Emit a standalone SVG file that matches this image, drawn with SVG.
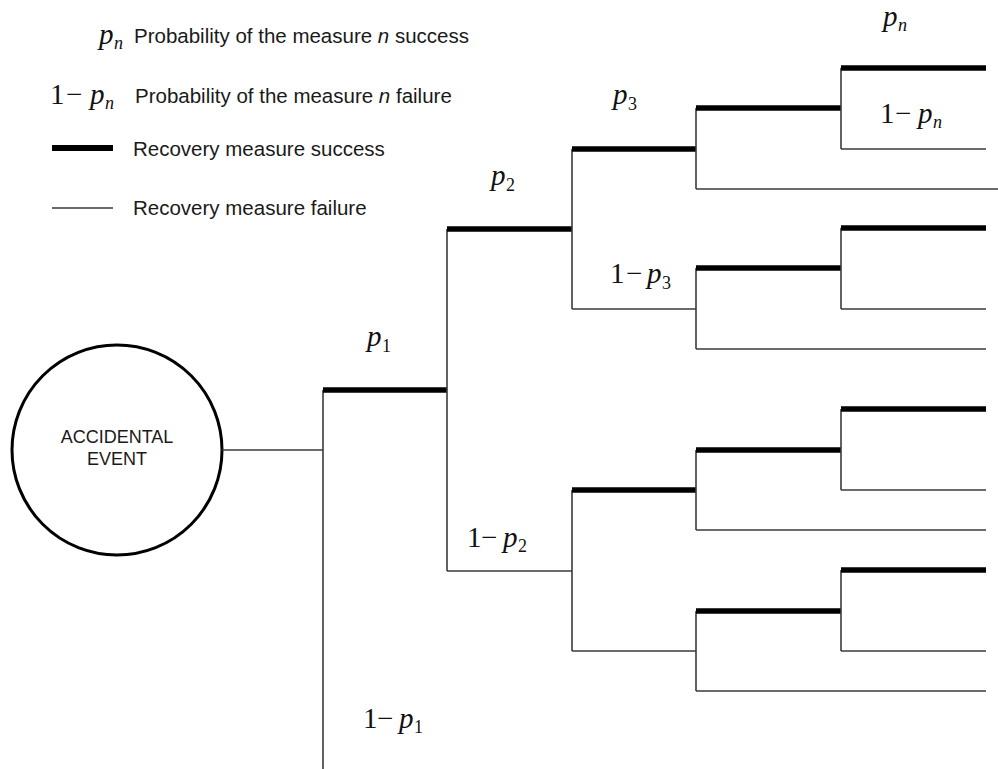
<svg xmlns="http://www.w3.org/2000/svg" width="998" height="769" viewBox="0 0 998 769">
<style>
.bg{fill:#ffffff}
.thick{stroke:#000;stroke-width:5.5;fill:none;stroke-linecap:butt}
.thin{stroke:#3a3a3a;stroke-width:1.6;fill:none;stroke-linecap:butt}
.sans{font-family:"Liberation Sans",Arial,sans-serif;fill:#1a1a1a}
.leg{font-size:20.5px}
.node{font-size:18px}
.math{font-family:"Liberation Serif","Times New Roman",serif;font-size:29px;fill:#111}
.it{font-style:italic}
.sub{font-size:18px}
</style>
<rect class="bg" x="0" y="0" width="998" height="769"/>

<g id="legend">
  <text class="math"><tspan class="it" x="99" y="44">p</tspan><tspan class="it sub" x="114" y="49">n</tspan></text>
  <text class="sans leg" x="134" y="43">Probability of the measure <tspan font-style="italic">n</tspan> success</text>
  <text class="math"><tspan x="50" y="104">1</tspan><tspan x="66" y="104">−</tspan><tspan class="it" x="90" y="104">p</tspan><tspan class="it sub" x="105" y="109">n</tspan></text>
  <text class="sans leg" x="135" y="103">Probability of the measure <tspan font-style="italic">n</tspan> failure</text>
  <line class="thick" x1="52" y1="148" x2="113" y2="148" style="stroke-width:6"/>
  <text class="sans leg" x="133" y="156">Recovery measure success</text>
  <line class="thin" x1="52" y1="208" x2="113" y2="208"/>
  <text class="sans leg" x="133" y="215">Recovery measure failure</text>
</g>

<g id="accidental-event">
  <circle cx="117" cy="450" r="105" fill="#fff" stroke="#000" stroke-width="3"/>
  <text class="sans node" x="117" y="443" text-anchor="middle">ACCIDENTAL</text>
  <text class="sans node" x="117" y="465" text-anchor="middle">EVENT</text>
</g>

<g id="connectors">
  <line class="thin" x1="222" y1="450" x2="323" y2="450"/>
  <line class="thin" x1="323" y1="390" x2="323" y2="769"/>
  <line class="thick" x1="323" y1="390" x2="447" y2="390"/>
  <line class="thin" x1="447" y1="229" x2="447" y2="571"/>
  <line class="thick" x1="447" y1="229" x2="572" y2="229"/>
  <line class="thin" x1="447" y1="571" x2="572" y2="571"/>
  <line class="thin" x1="572" y1="149" x2="572" y2="309"/>
  <line class="thick" x1="572" y1="149" x2="696" y2="149"/>
  <line class="thin" x1="572" y1="309" x2="696" y2="309"/>
  <line class="thin" x1="572" y1="490" x2="572" y2="651"/>
  <line class="thick" x1="572" y1="490" x2="696" y2="490"/>
  <line class="thin" x1="572" y1="651" x2="696" y2="651"/>
  <line class="thin" x1="696" y1="108" x2="696" y2="189"/>
  <line class="thick" x1="696" y1="108" x2="841" y2="108"/>
  <line class="thin" x1="696" y1="189" x2="998" y2="189"/>
  <line class="thin" x1="696" y1="268" x2="696" y2="349"/>
  <line class="thick" x1="696" y1="268" x2="841" y2="268"/>
  <line class="thin" x1="696" y1="349" x2="986" y2="349"/>
  <line class="thin" x1="696" y1="450" x2="696" y2="530"/>
  <line class="thick" x1="696" y1="450" x2="841" y2="450"/>
  <line class="thin" x1="696" y1="530" x2="986" y2="530"/>
  <line class="thin" x1="696" y1="611" x2="696" y2="691"/>
  <line class="thick" x1="696" y1="611" x2="841" y2="611"/>
  <line class="thin" x1="696" y1="691" x2="986" y2="691"/>
  <line class="thin" x1="841" y1="68" x2="841" y2="149"/>
  <line class="thick" x1="841" y1="68" x2="986" y2="68"/>
  <line class="thin" x1="841" y1="149" x2="986" y2="149"/>
  <line class="thin" x1="841" y1="228" x2="841" y2="309"/>
  <line class="thick" x1="841" y1="228" x2="986" y2="228"/>
  <line class="thin" x1="841" y1="309" x2="986" y2="309"/>
  <line class="thin" x1="841" y1="409" x2="841" y2="490"/>
  <line class="thick" x1="841" y1="409" x2="986" y2="409"/>
  <line class="thin" x1="841" y1="490" x2="986" y2="490"/>
  <line class="thin" x1="841" y1="570" x2="841" y2="651"/>
  <line class="thick" x1="841" y1="570" x2="986" y2="570"/>
  <line class="thin" x1="841" y1="651" x2="986" y2="651"/>
</g>

<g id="labels">
  <text id="label-p1" class="math"><tspan class="it" x="367" y="346">p</tspan><tspan class="sub" x="382" y="352">1</tspan></text>
  <text id="label-1-p1" class="math"><tspan x="363" y="728">1</tspan><tspan x="377" y="728">−</tspan><tspan class="it" x="399" y="728">p</tspan><tspan class="sub" x="414" y="733">1</tspan></text>
  <text id="label-p2" class="math"><tspan class="it" x="491" y="185">p</tspan><tspan class="sub" x="506" y="191">2</tspan></text>
  <text id="label-1-p2" class="math"><tspan x="467" y="547">1</tspan><tspan x="481" y="547">−</tspan><tspan class="it" x="503" y="547">p</tspan><tspan class="sub" x="518" y="552">2</tspan></text>
  <text id="label-p3" class="math"><tspan class="it" x="613" y="104">p</tspan><tspan class="sub" x="628" y="110">3</tspan></text>
  <text id="label-1-p3" class="math"><tspan x="610" y="283">1</tspan><tspan x="626" y="283">−</tspan><tspan class="it" x="647" y="283">p</tspan><tspan class="sub" x="662" y="289">3</tspan></text>
  <text id="label-pn" class="math"><tspan class="it" x="883" y="26">p</tspan><tspan class="it sub" x="898" y="31">n</tspan></text>
  <text id="label-1-pn" class="math"><tspan x="880" y="123">1</tspan><tspan x="895" y="123">−</tspan><tspan class="it" x="918" y="123">p</tspan><tspan class="it sub" x="933" y="128">n</tspan></text>
</g>
</svg>
